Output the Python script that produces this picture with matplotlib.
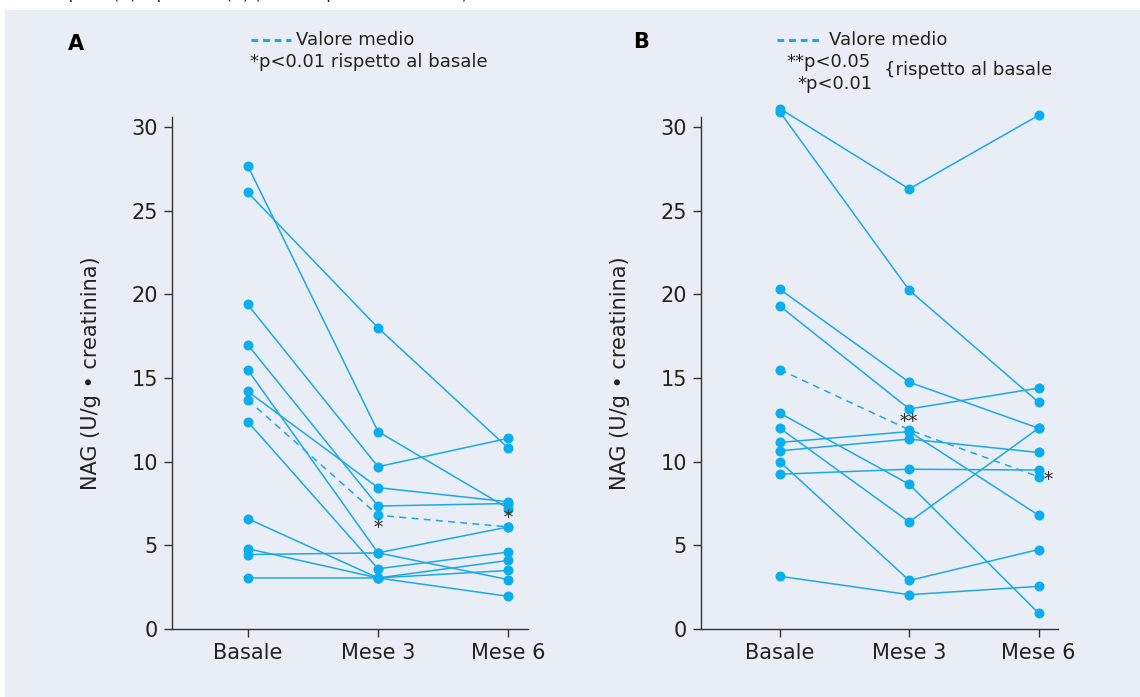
import numpy as np
import matplotlib
matplotlib.use("Agg")
import matplotlib.pyplot as plt
from matplotlib.patches import Rectangle
from matplotlib.lines import Line2D

# Data (NAG, U/g creatinina)
tempi = ['Basale', 'Mese 3', 'Mese 6']

# Panel A: one row per patient (Basale, Mese 3, Mese 6)
nag_a = [
    [27.7, 11.8, 7.2],
    [26.1, 18.0, 10.8],
    [19.4, 9.7, 11.4],
    [17.0, 7.35, 7.5],
    [15.5, 4.55, 6.1],
    [14.2, 8.45, 7.6],
    [12.4, 3.6, 4.6],
    [6.6, 3.05, 1.95],
    [4.8, 3.05, 3.5],
    [4.45, 4.55, 2.95],
    [3.05, 3.05, 4.1],
]
media_a = [13.7, 6.8, 6.1]

# Panel B
nag_b = [
    [31.1, 26.3, 30.7],
    [30.9, 20.25, 13.55],
    [20.3, 14.75, 12.0],
    [19.3, 13.15, 14.4],
    [12.9, 8.65, 0.95],
    [12.0, 6.4, 12.0],
    [11.15, 11.8, 6.8],
    [10.65, 11.35, 10.55],
    [10.0, 2.9, 4.75],
    [9.25, 9.55, 9.5],
    [3.15, 2.05, 2.55],
]
media_b = [15.5, 11.9, 9.1]

yticks = [0, 5, 10, 15, 20, 25, 30]

# Style
bg = '#E9EDF5'
c_line = '#1DA9E1'
c_mark = '#0BAEEC'
c_axis = '#333333'

fig = plt.figure(figsize=(11.4, 6.97), dpi=100, facecolor='white')
fig.patches.append(Rectangle((5 / 1140, 0), 1, 1 - 10 / 697, transform=fig.transFigure,
                             facecolor=bg, edgecolor='none', zorder=-10))

# caption of the page above, cut off at the top edge (only descenders show)
fig.text(32 / 1140, 1 + 1.5 / 697,
         'Campioni (A) e pazienti (B) (dati nel periodo di studio)',
         fontsize=11.5, color='#222222', va='baseline', ha='left')


def draw_panel(ax, dati, media, xlim):
    x = np.arange(len(tempi))
    ax.set_facecolor('none')
    for serie in dati:
        ax.plot(x, serie, color=c_line, lw=1.1, marker='o', ms=6.2,
                mfc=c_mark, mec=c_mark, zorder=3, clip_on=False)
    ax.plot(x, media, color=c_line, lw=1.1, ls=(0, (4.5, 3.5)), marker='o', ms=6.2,
            mfc=c_mark, mec=c_mark, zorder=3, clip_on=False)
    ax.set_xlim(*xlim)
    ax.set_ylim(0, 30.6)
    ax.set_xticks(x)
    ax.set_xticklabels(tempi)
    ax.set_yticks(yticks)
    for s in ['top', 'right']:
        ax.spines[s].set_visible(False)
    for s in ['left', 'bottom']:
        ax.spines[s].set_color(c_axis)
        ax.spines[s].set_linewidth(1.0)
    ax.tick_params(axis='both', direction='out', length=6, width=1.0, color=c_axis,
                   labelsize=15, labelcolor='#222222', pad=4)
    ax.set_ylabel('NAG (U/g • creatinina)', fontsize=15, color='#222222', labelpad=22)


ax_a = fig.add_axes([172 / 1140, 68 / 697, 356 / 1140, 512 / 697])
draw_panel(ax_a, nag_a, media_a, (-0.58, 2.15))
ax_b = fig.add_axes([701 / 1140, 68 / 697, 357 / 1140, 512 / 697])
draw_panel(ax_b, nag_b, media_b, (-0.61, 2.15))

# asterisks
ast = dict(fontsize=13, color='#333333', ha='center', va='center', family='DejaVu Serif')
ax_a.annotate('*', (1, media_a[1]), xytext=(0, -9), textcoords='offset points', **ast)
ax_a.annotate('*', (2, media_a[2]), xytext=(0, 6.5), textcoords='offset points', **ast)
ax_b.annotate('**', (1, media_b[1]), xytext=(0, 6), textcoords='offset points', **ast)
ax_b.annotate('*', (2, media_b[2]), xytext=(7, -2), textcoords='offset points', **ast)

# panel letters and legends
fig.text(76 / 1140, 1 - 44 / 697, 'A', fontsize=15, fontweight='bold', ha='center', va='center')
fig.text(641 / 1140, 1 - 42 / 697, 'B', fontsize=15, fontweight='bold', ha='center', va='center')

leg_kw = dict(transform=fig.transFigure, color=c_line, lw=2.2, ls=(0, (2.2, 1.6)))
fig.add_artist(Line2D([251 / 1140, 291 / 1140], [1 - 40 / 697] * 2, **leg_kw))
fig.add_artist(Line2D([777 / 1140, 822 / 1140], [1 - 40 / 697] * 2, **leg_kw))

tx = dict(fontsize=13, color='#222222', va='center', ha='left')
fig.text(296 / 1140, 1 - 40 / 697, 'Valore medio', **tx)
fig.text(250 / 1140, 1 - 62 / 697, '*p<0.01 rispetto al basale', **tx)
fig.text(829 / 1140, 1 - 40 / 697, 'Valore medio', **tx)
fig.text(786 / 1140, 1 - 62 / 697, '**p<0.05', **tx)
fig.text(797 / 1140, 1 - 84 / 697, '*p<0.01', **tx)
fig.text(884 / 1140, 1 - 70 / 697, '{rispetto al basale', **tx)

fig.savefig('out.png', dpi=100, facecolor=fig.get_facecolor())
